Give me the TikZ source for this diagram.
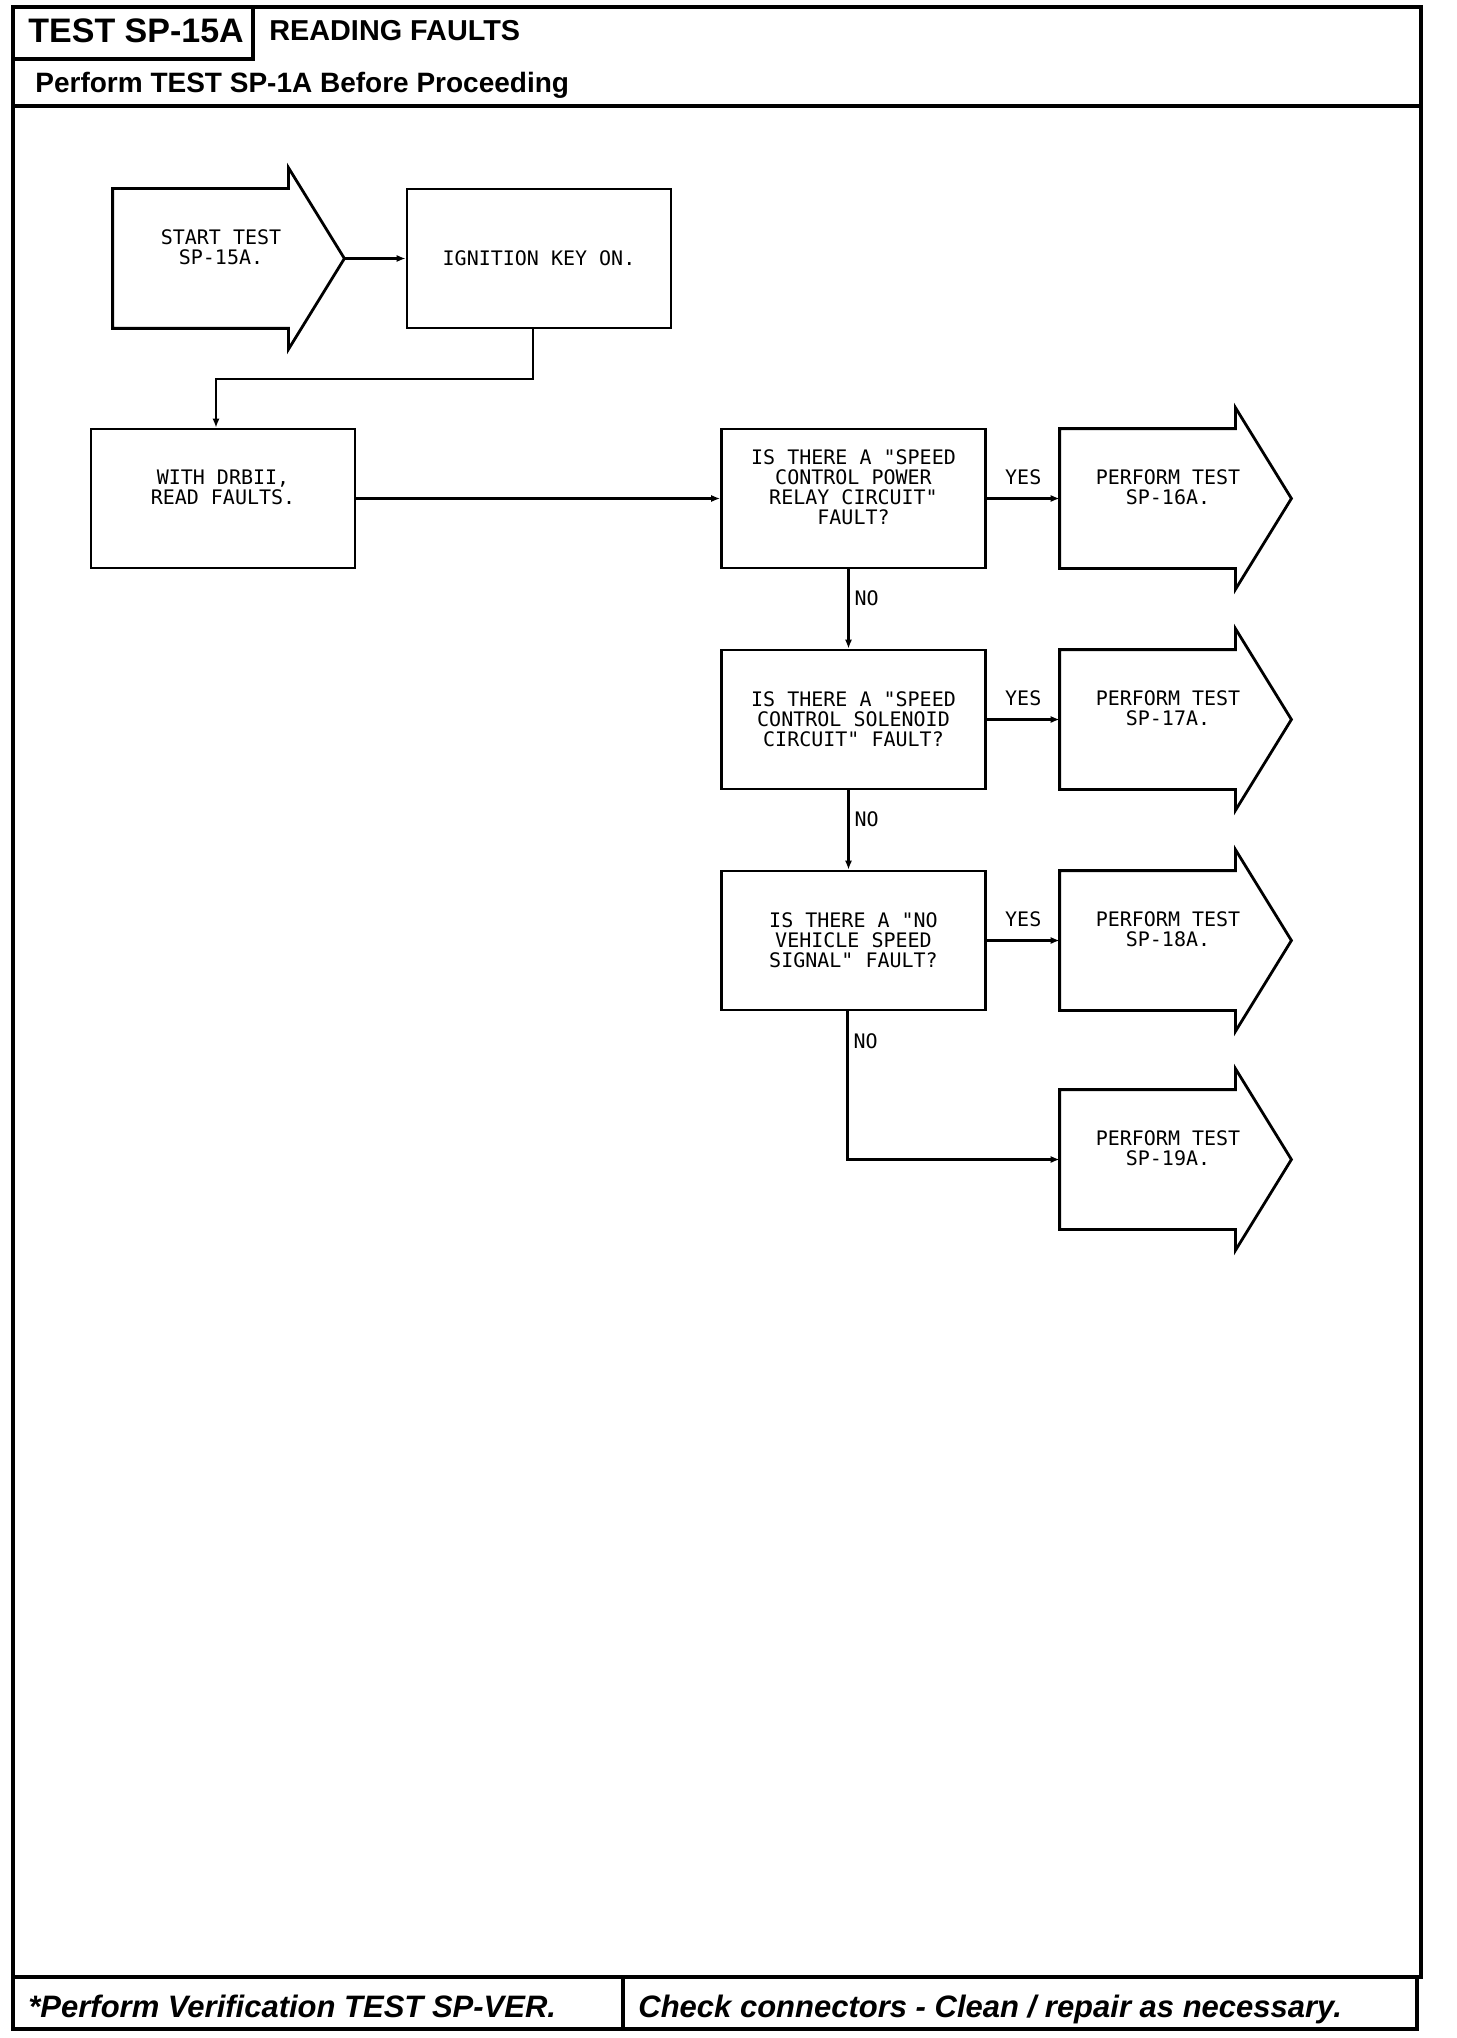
\documentclass[tikz,border=0pt]{standalone}
\usepackage{fontspec}
\setmainfont{Liberation Sans}
\newfontfamily\plotter{DejaVu Sans Mono}
\usetikzlibrary{calc,arrows.meta}

\tikzset{
  pageframe/.style={line width=1.9pt},
  flowbox/.style={draw, line width=1.4pt, minimum width=132pt, minimum height=69.5pt,
    inner sep=0pt, align=center, font=\plotter\fontsize{10}{10}\selectfont},
  testarrow/.style={minimum width=108pt, minimum height=69.5pt,
    inner sep=0pt, align=center, font=\plotter\fontsize{10}{10}\selectfont},
  outline/.style={line width=1.4pt, line join=miter},
  lifted/.style={text depth=11pt},
  conn/.style={-{Latex[length=4.5pt,width=3.6pt]}, line width=1.1pt},
  lbl/.style={font=\plotter\fontsize{10}{10}\selectfont, inner sep=2.5pt},
  headtext/.style={anchor=base west, inner sep=0pt},
}

% outline of an arrow-shaped box round node #1, tip kept as coordinate #1tip
\newcommand{\arrowoutline}[1]{%
  \draw[outline] (#1.south west) -- (#1.north west) -- ($(#1.north east)+(-41,0)$)
    -- ++(0,-21) -- ($(#1.east)+(15,0)$) -- ($(#1.south east)+(-41,21)$)
    -- ++(0,-21) -- cycle;
  \coordinate (#1tip) at ($(#1.east)+(15,0)$);
}

\begin{document}
\begin{tikzpicture}[x=0.5pt, y=-0.5pt]
\useasboundingbox (0,0) rectangle (1456,2038);

% Page frame and header
\draw[pageframe] (13,7) rectangle (1421,1977);
\draw[pageframe] (13,7) rectangle (253,59);
\draw[pageframe] (13,106) -- (1421,106);
\node[headtext, font=\bfseries\fontsize{17}{19}\selectfont] (testno) at (28,43) {TEST SP-15A};
\node[headtext, font=\bfseries\fontsize{14.4}{16}\selectfont] (title) at (269,41) {READING FAULTS};
\node[headtext, font=\bfseries\fontsize{14}{16}\selectfont] (before) at (35,93) {Perform TEST SP-1A Before Proceeding};

% Footer
\draw[pageframe] (13,1977) rectangle (1417,2029);
\draw[pageframe] (623,1977) -- (623,2029);
\node[headtext, font=\bfseries\itshape\fontsize{15.5}{17}\selectfont] (verify) at (28,2017) {*Perform Verification TEST SP-VER.};
\node[headtext, font=\bfseries\itshape\fontsize{15.5}{17}\selectfont] (check) at (638,2017) {Check connectors - Clean / repair as necessary.};

% Steps
\node[testarrow, lifted] (start) at (221,258.5) {START TEST\\SP-15A.};
\arrowoutline{start}
\node[flowbox] (ignition) at (539,258.5) {IGNITION KEY ON.};
\node[flowbox, lifted] (drbii) at (223,498.5) {WITH DRBII,\\READ FAULTS.};

% Questions
\node[flowbox, lifted] (relay) at (853.5,498.5) {IS THERE A "SPEED\\CONTROL POWER\\RELAY CIRCUIT"\\FAULT?};
\node[flowbox] (solenoid) at (853.5,719.5) {IS THERE A "SPEED\\CONTROL SOLENOID\\CIRCUIT" FAULT?};
\node[flowbox] (vss) at (853.5,940.5) {IS THERE A "NO\\VEHICLE SPEED\\SIGNAL" FAULT?};

% Next tests
\node[testarrow, lifted] (sp16) at (1168,498.5) {PERFORM TEST\\SP-16A.};
\arrowoutline{sp16}
\node[testarrow, lifted] (sp17) at (1168,719.5) {PERFORM TEST\\SP-17A.};
\arrowoutline{sp17}
\node[testarrow, lifted] (sp18) at (1168,940.5) {PERFORM TEST\\SP-18A.};
\arrowoutline{sp18}
\node[testarrow, lifted] (sp19) at (1168,1159.5) {PERFORM TEST\\SP-19A.};
\arrowoutline{sp19}

% Connectors
\draw[conn] (starttip) -- (ignition.west);
\draw[conn] ([xshift=-3pt]ignition.south) -- ++(0,50) -| ([xshift=-3.5pt]drbii.north);
\draw[conn] (drbii) -- (relay);
\draw[conn] (relay) -- node[lbl, above=4pt] (yes1) {YES} (sp16);
\draw[conn] (solenoid) -- node[lbl, above=4pt] (yes2) {YES} (sp17);
\draw[conn] (vss) -- node[lbl, above=4pt] (yes3) {YES} (sp18);
\draw[conn] ([xshift=-2.5pt]relay.south) -- node[lbl, right, pos=0.37] (no1) {NO} ([xshift=-2.5pt]solenoid.north);
\draw[conn] ([xshift=-2.5pt]solenoid.south) -- node[lbl, right, pos=0.37] (no2) {NO} ([xshift=-2.5pt]vss.north);
\draw[conn] ([xshift=-3pt]vss.south) |- node[lbl, right, pos=0.1] (no3) {NO} (sp19.west);

\end{tikzpicture}
\end{document}
